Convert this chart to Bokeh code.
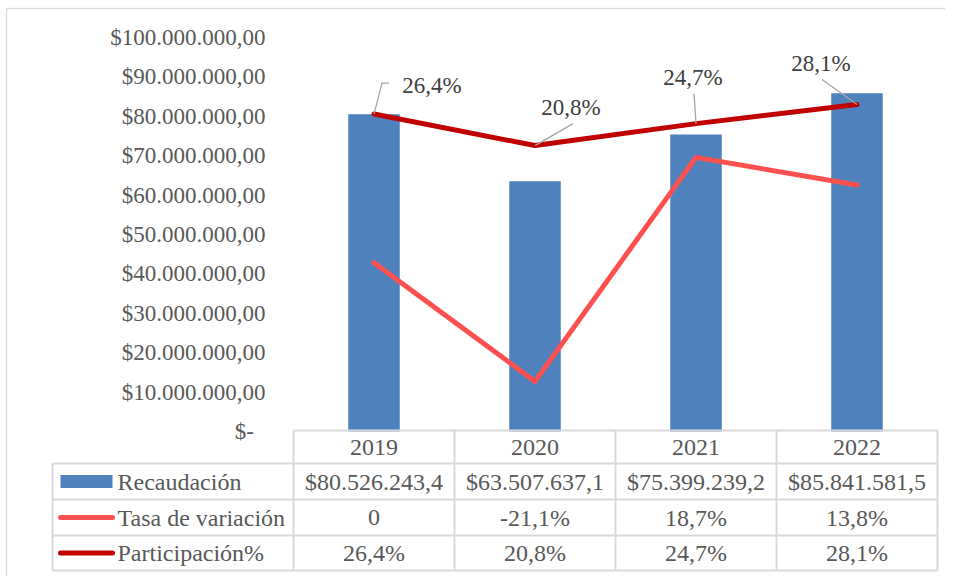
from bokeh.plotting import figure
from bokeh.models import Range1d, FixedTicker, CustomJSTickFormatter
from bokeh.core.properties import value
from bokeh.embed import file_html
from bokeh.resources import INLINE

# ---------------- data ----------------
years = ["2019", "2020", "2021", "2022"]
recaudacion = [80526243.4, 63507637.1, 75399239.2, 85841581.5]
tasa_variacion = [0.0, -21.1, 18.7, 13.8]          # %
participacion = [26.4, 20.8, 24.7, 28.1]           # %
series_names = ["Recaudación", "Tasa de variación", "Participación%"]
y_ticks = [0, 10e6, 20e6, 30e6, 40e6, 50e6, 60e6, 70e6, 80e6, 90e6, 100e6]

# ---------------- style / layout (pixels) ----------------
FONT = "Liberation Serif"
BLUE = "#4F81BD"
LIGHT_RED = "#FF5050"
DARK_RED = "#C00000"
GRID = "#D9D9D9"
TXT = "#595959"
LBL = "#404040"

W, H = 945, 576
F_LEFT, F_RIGHT, F_TOP, F_BOTTOM = 5, 945, 7, 576   # plot frame in pixels
CHART_LEFT, CHART_TOP = 6, 8     # outer chart-area border
PLOT_LEFT = 293          # left edge of the category columns
COL_PX = 161.0           # width of one category column
ZERO_Y, TOP_Y = 431, 37  # pixel rows of $0 and $100M
LABEL_RIGHT = 265        # right edge of the value-axis labels
PCT_LO, PCT_HI = -30.0, 40.0   # hidden secondary axis
TBL_LEFT = 52
HDR_TOP = 430
ROW_LINES = [463, 499, 535, 570]
KEY_X0, KEY_X1, NAME_X = 60, 112, 117

# data-label offsets (screen px) and leader-line bends (screen px)
LBL_DX = [58, 36, -3, -36]
LBL_DY = [-29, -38, -46, -41]
LEAD = [[(0, 0), (8, -31), (15, -31)],
        [(0, 0), (38, -22)],
        [(0, 0), (-2, -30)],
        [(0, 0), (-35, -25)]]


def fmt_money(v):
    s = f"{v:,.1f}"
    return "$" + s.replace(",", "X").replace(".", ",").replace("X", ".")


def fmt_pct(v):
    if v == 0:
        return "0"
    return f"{v:.1f}".replace(".", ",") + "%"


n = len(years)
xs = [i + 0.5 for i in range(n)]

usd_px = (ZERO_Y - TOP_Y) / 1e8
pct_px = (ZERO_Y - TOP_Y) / (PCT_HI - PCT_LO)
pct_zero_y = TOP_Y + PCT_HI * pct_px

p = figure(width=W, height=H,
           x_range=Range1d((F_LEFT - PLOT_LEFT) / COL_PX, (F_RIGHT - PLOT_LEFT) / COL_PX),
           y_range=Range1d(-(F_BOTTOM - ZERO_Y) / usd_px, (ZERO_Y - F_TOP) / usd_px),
           output_backend="svg", toolbar_location=None,
           min_border_left=F_LEFT, min_border_right=W - F_RIGHT,
           min_border_top=F_TOP, min_border_bottom=H - F_BOTTOM,
           x_axis_location=None)
p.extra_y_ranges = {
    "pct": Range1d(-(F_BOTTOM - pct_zero_y) / pct_px, (pct_zero_y - F_TOP) / pct_px),
    "px": Range1d(F_BOTTOM, F_TOP),
}
p.extra_x_ranges = {"px": Range1d(F_LEFT, F_RIGHT)}
p.outline_line_color = None
p.xgrid.visible = False
p.ygrid.visible = False

ax = p.yaxis[0]
ax.ticker = FixedTicker(ticks=y_ticks)
ax.formatter = CustomJSTickFormatter(code=r"""
if (Math.abs(tick) < 1) { return "$-\u00a0\u00a0"; }
const s = Math.round(tick).toString().replace(/\B(?=(\d{3})+(?!\d))/g, ".");
return "$" + s + ",00";
""")
ax.axis_line_color = None
ax.major_tick_line_color = None
ax.minor_tick_line_color = None
ax.major_tick_in = 0
ax.major_tick_out = 0
ax.major_label_standoff = -(LABEL_RIGHT - F_LEFT)
ax.major_label_text_font = FONT
ax.major_label_text_font_size = "23px"
ax.major_label_text_color = TXT

# outer chart-area border (top and left edges visible in the picture)
p.segment(x0=[CHART_LEFT, CHART_LEFT], x1=[F_RIGHT, CHART_LEFT],
          y0=[CHART_TOP, CHART_TOP], y1=[CHART_TOP, F_BOTTOM],
          x_range_name="px", y_range_name="px", line_color=GRID, line_width=1.3)

# bars
p.vbar(x=xs, top=recaudacion, width=0.32, fill_color=BLUE, line_color=None)

# ---- data table grid ----
col_edges = [PLOT_LEFT + COL_PX * i for i in range(n + 1)]
h_x0 = [PLOT_LEFT] + [TBL_LEFT] * len(ROW_LINES)
h_x1 = [col_edges[-1]] * (len(ROW_LINES) + 1)
h_y = [HDR_TOP] + ROW_LINES
p.segment(x0=h_x0, x1=h_x1, y0=h_y, y1=h_y, x_range_name="px", y_range_name="px",
          line_color=GRID, line_width=2)
v_x = [TBL_LEFT] + col_edges
v_y0 = [ROW_LINES[0]] + [HDR_TOP] * len(col_edges)
v_y1 = [ROW_LINES[-1]] * len(v_x)
p.segment(x0=v_x, x1=v_x, y0=v_y0, y1=v_y1, x_range_name="px", y_range_name="px",
          line_color=GRID, line_width=2)

# header row (years)
p.text(x=xs, y=[(HDR_TOP + ROW_LINES[0]) / 2] * n, text=years, y_range_name="px",
       text_align="center", text_baseline="middle",
       text_font=value(FONT), text_font_size="24px", text_color=TXT)

# legend keys + names
row_c = [(ROW_LINES[k] + ROW_LINES[k + 1]) / 2 for k in range(len(series_names))]
p.quad(left=[KEY_X0], right=[KEY_X1], top=[row_c[0] - 6.5], bottom=[row_c[0] + 6.5],
       x_range_name="px", y_range_name="px", fill_color=BLUE, line_color=None)
p.segment(x0=[KEY_X0, KEY_X0], x1=[KEY_X1, KEY_X1], y0=row_c[1:], y1=row_c[1:],
          x_range_name="px", y_range_name="px", line_color=[LIGHT_RED, DARK_RED],
          line_width=5, line_cap="round")
p.text(x=[NAME_X] * len(series_names), y=row_c, text=series_names,
       x_range_name="px", y_range_name="px",
       text_align="left", text_baseline="middle",
       text_font=value(FONT), text_font_size="24px", text_color=TXT)

# table values
rows_text = [
    [fmt_money(v) for v in recaudacion],
    [fmt_pct(v) for v in tasa_variacion],
    [fmt_pct(v) for v in participacion],
]
for k in range(len(series_names)):
    p.text(x=xs, y=[row_c[k]] * n, text=rows_text[k], y_range_name="px",
           text_align="center", text_baseline="middle",
           text_font=value(FONT), text_font_size="24px", text_color=TXT)

# lines
p.line(xs, tasa_variacion, y_range_name="pct", line_color=LIGHT_RED,
       line_width=5, line_cap="round", line_join="round")
p.line(xs, participacion, y_range_name="pct", line_color=DARK_RED,
       line_width=5, line_cap="round", line_join="round")

# leader lines + data labels for Participación%
lead_xs = [[xs[i] + dx / COL_PX for dx, dy in LEAD[i]] for i in range(n)]
lead_ys = [[participacion[i] - dy / pct_px for dx, dy in LEAD[i]] for i in range(n)]
p.multi_line(xs=lead_xs, ys=lead_ys, y_range_name="pct",
             line_color="#A6A6A6", line_width=1.3)
p.text(x=xs, y=participacion, text=[fmt_pct(v) for v in participacion],
       y_range_name="pct", x_offset=LBL_DX, y_offset=LBL_DY,
       text_align="center", text_baseline="middle",
       text_font=value(FONT), text_font_size="23px", text_color=LBL)

open("out.html", "w").write(file_html(p, INLINE))
